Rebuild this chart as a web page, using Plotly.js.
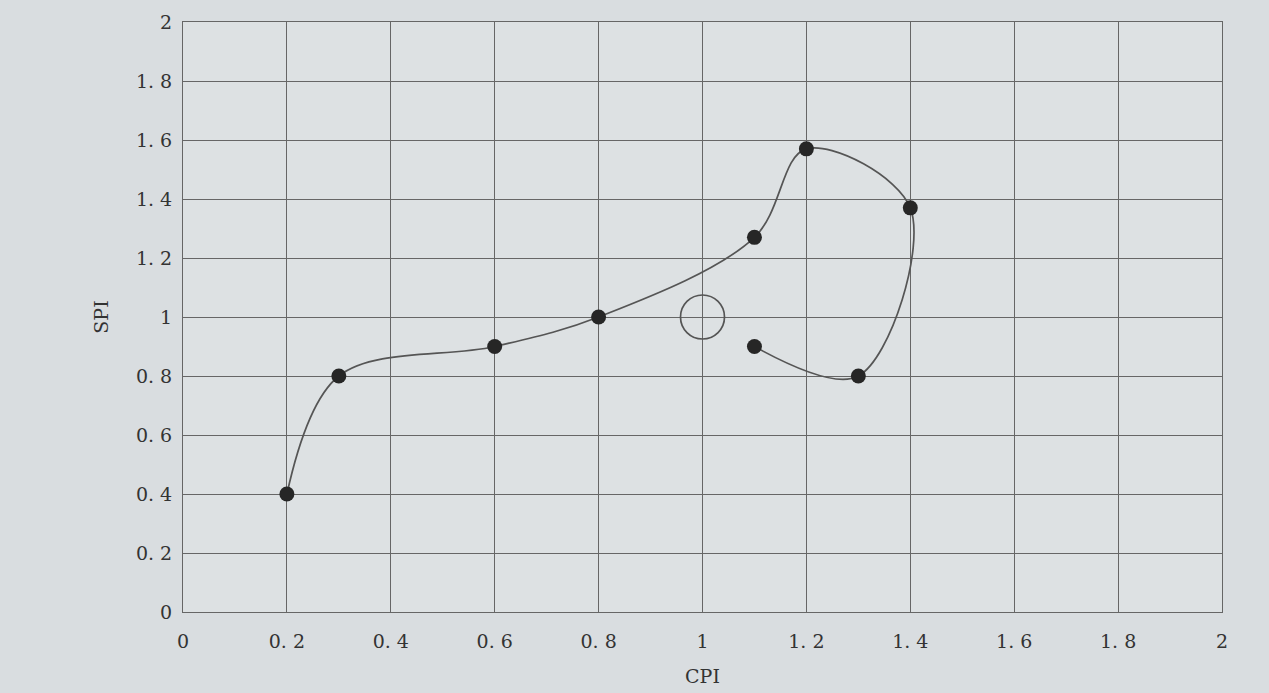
<!DOCTYPE html>
<html>
<head>
<meta charset="utf-8">
<script src="https://cdn.plot.ly/plotly-3.0.1.min.js"></script>
<style>html,body{margin:0;padding:0;background:#d9dde0;}#chart{width:1269px;height:693px;}</style>
</head>
<body>
<div id="chart"></div>
<script>
const cpi = [0.2, 0.3, 0.6, 0.8, 1.1, 1.2, 1.4, 1.3, 1.1];
const spi = [0.4, 0.8, 0.9, 1.0, 1.27, 1.57, 1.37, 0.8, 0.9];
const targetCpi = [1];
const targetSpi = [1];
const tickVals = [0, 0.2, 0.4, 0.6, 0.8, 1, 1.2, 1.4, 1.6, 1.8, 2];
const tickLabels = ["0", "0. 2", "0. 4", "0. 6", "0. 8", "1", "1. 2", "1. 4", "1. 6", "1. 8", "2"];

const font = {family: "DejaVu Serif, Liberation Serif, serif", size: 19, color: "#333"};

const traces = [
  {
    x: cpi, y: spi, type: "scatter", mode: "lines+markers",
    line: {shape: "spline", smoothing: 1, color: "#555", width: 1.7},
    marker: {size: 15, color: "#262626"},
    hoverinfo: "x+y", showlegend: false
  },
  {
    x: targetCpi, y: targetSpi, type: "scatter", mode: "markers",
    marker: {symbol: "circle-open", size: 44, color: "#555", line: {width: 1.7, color: "#555"}},
    showlegend: false
  }
];

const axisCommon = {
  range: [0, 2], tickvals: tickVals, ticktext: tickLabels,
  showgrid: true, gridcolor: "#666", gridwidth: 1,
  zeroline: false, showline: true, linecolor: "#666", linewidth: 1,
  ticks: "outside", tickcolor: "rgba(0,0,0,0)",
  tickfont: font, mirror: true
};

const layout = {
  width: 1269, height: 693,
  margin: {l: 183, r: 47, t: 22, b: 81},
  paper_bgcolor: "#d9dde0", plot_bgcolor: "#dde1e3",
  xaxis: Object.assign({}, axisCommon, {
    ticklen: 12,
    title: {text: "CPI", font: font, standoff: 18}
  }),
  yaxis: Object.assign({}, axisCommon, {
    ticklen: 6,
    title: {text: "SPI", font: font, standoff: 22}
  }),
  showlegend: false
};

Plotly.newPlot("chart", traces, layout, {displayModeBar: false, staticPlot: true});
</script>
</body>
</html>
